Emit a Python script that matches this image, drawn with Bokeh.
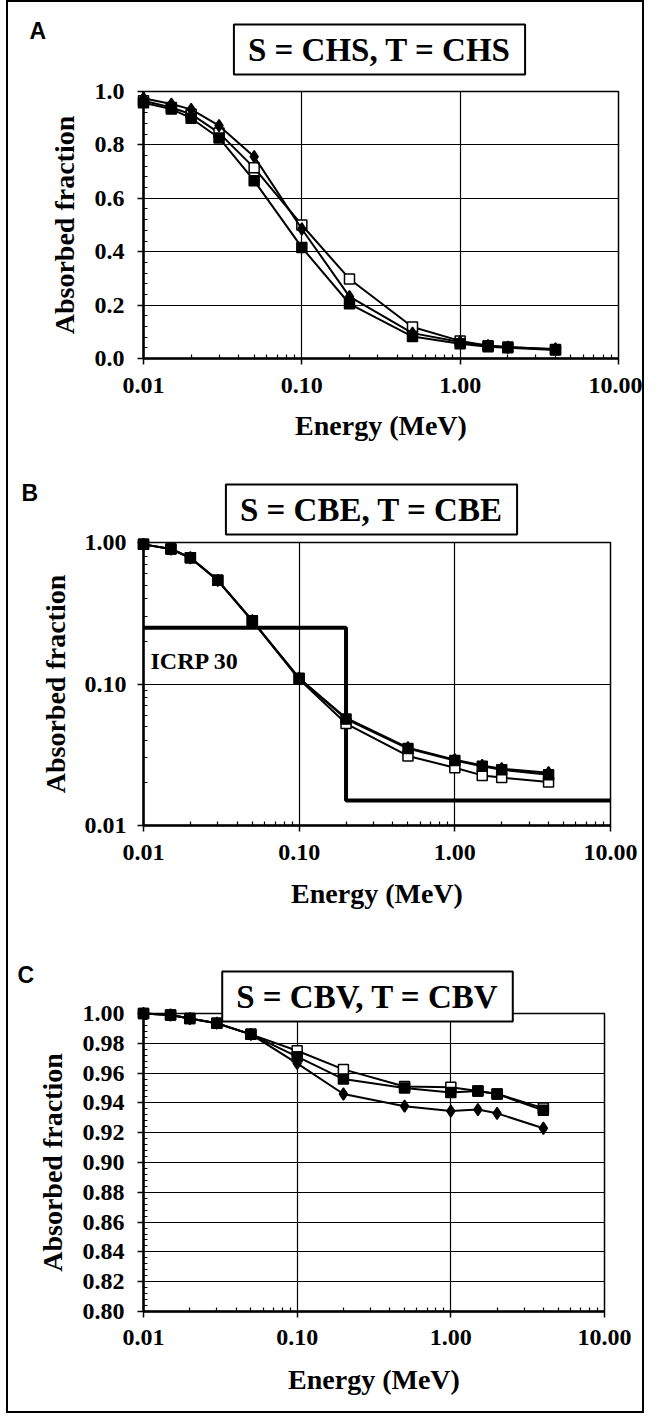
import math
from bokeh.plotting import figure
from bokeh.models import FixedTicker, Label
from bokeh.core.properties import value
from bokeh.layouts import column
from bokeh.embed import file_html
from bokeh.resources import INLINE

# ---------------- data ----------------
energy = [0.01, 0.015, 0.02, 0.03, 0.05, 0.1, 0.2, 0.5, 1.0, 1.5, 2.0, 4.0]

# Panel A : S = CHS, T = CHS
a_diamond = [0.975, 0.953, 0.933, 0.872, 0.756, 0.485, 0.232, 0.095, 0.062, 0.048, 0.042, 0.036]
a_open    = [0.965, 0.940, 0.915, 0.845, 0.714, 0.500, 0.298, 0.118, 0.066, 0.048, 0.043, 0.034]
a_filled  = [0.958, 0.934, 0.900, 0.826, 0.666, 0.416, 0.205, 0.082, 0.055, 0.044, 0.040, 0.032]

# Panel B : S = CBE, T = CBE
b_diamond = [0.97, 0.90, 0.78, 0.54, 0.28, 0.110, 0.0575, 0.0355, 0.0292, 0.0266, 0.0252, 0.0236]
b_filled  = [0.97, 0.90, 0.78, 0.54, 0.28, 0.110, 0.0565, 0.0350, 0.0288, 0.0262, 0.0248, 0.0228]
b_open    = [0.97, 0.90, 0.78, 0.54, 0.28, 0.108, 0.0525, 0.0310, 0.0256, 0.0226, 0.0218, 0.0203]
icrp_x = [0.01, 0.2, 0.2, 10.0]
icrp_y = [0.25, 0.25, 0.015, 0.015]

# Panel C : S = CBV, T = CBV
c_open    = [1.000, 0.999, 0.9966, 0.9935, 0.986, 0.975, 0.9625, 0.951, 0.9505, 0.948, 0.946, 0.9365]
c_filled  = [1.000, 0.999, 0.9966, 0.9935, 0.986, 0.971, 0.956, 0.950, 0.947, 0.948, 0.946, 0.935]
c_diamond = [1.000, 0.999, 0.9966, 0.9935, 0.986, 0.9665, 0.946, 0.9378, 0.9345, 0.9355, 0.933, 0.923]

# ---------------- ticks ----------------
x_ticks = [0.01, 0.1, 1.0, 10.0]
x_tick_labels = ["0.01", "0.10", "1.00", "10.00"]
a_y_ticks = [0.0, 0.2, 0.4, 0.6, 0.8, 1.0]
a_y_labels = ["0.0", "0.2", "0.4", "0.6", "0.8", "1.0"]
b_y_ticks = [0.01, 0.1, 1.0]
b_y_labels = ["0.01", "0.10", "1.00"]
c_y_ticks = [0.80, 0.82, 0.84, 0.86, 0.88, 0.90, 0.92, 0.94, 0.96, 0.98, 1.00]
c_y_labels = ["0.80", "0.82", "0.84", "0.86", "0.88", "0.90", "0.92", "0.94", "0.96", "0.98", "1.00"]

titles = ["S = CHS, T = CHS", "S = CBE, T = CBE", "S = CBV, T = CBV"]
letters = ["A", "B", "C"]
icrp_label = "ICRP 30"

x_minor = [k * 10.0 ** d for d in (-2, -1, 0) for k in range(2, 10)]
a_y_minor = [round(0.04 * i, 4) for i in range(1, 25)]
b_y_minor = [k * 10.0 ** d for d in (-2, -1) for k in range(2, 10)]
c_y_minor = [round(0.80 + 0.004 * i, 4) for i in range(1, 50)]

SERIF = "Liberation Serif"
SANS = "Liberation Sans"


def make_fig(left, fw, right, top, fh, bottom, y_type, y_range, yt, yl, ymin,
             xl_stand, xt_stand, yl_stand, yt_stand):
    p = figure(x_axis_type="log", y_axis_type=y_type, x_range=(0.01, 10.0), y_range=y_range,
               frame_width=fw, frame_height=fh,
               min_border_left=left, min_border_right=right,
               min_border_top=top, min_border_bottom=bottom,
               output_backend="svg", toolbar_location=None,
               background_fill_color="white", border_fill_color="white",
               outline_line_color="black", outline_line_width=1.5)
    p.xaxis.ticker = FixedTicker(ticks=x_ticks, minor_ticks=x_minor)
    p.xaxis.major_label_overrides = dict(zip(x_ticks, x_tick_labels))
    p.yaxis.ticker = FixedTicker(ticks=yt, minor_ticks=ymin)
    p.yaxis.major_label_overrides = dict(zip(yt, yl))
    p.xaxis.axis_label = "Energy (MeV)"
    p.yaxis.axis_label = "Absorbed fraction"
    for ax in (p.xaxis[0], p.yaxis[0]):
        ax.axis_line_color = "black"
        ax.axis_line_width = 2.5
        ax.major_tick_in = 0
        ax.major_tick_out = 6
        ax.major_tick_line_color = "black"
        ax.major_tick_line_width = 1.5
        ax.minor_tick_in = 4
        ax.minor_tick_out = 0
        ax.minor_tick_line_color = "black"
        ax.minor_tick_line_width = 1.2
        ax.major_label_text_font = SERIF
        ax.major_label_text_font_style = "bold"
        ax.major_label_text_font_size = "24px"
        ax.major_label_text_color = "black"
        ax.axis_label_text_font = SERIF
        ax.axis_label_text_font_style = "bold"
        ax.axis_label_text_font_size = "28px"
        ax.axis_label_text_color = "black"
    p.xaxis.major_label_standoff = xt_stand
    p.xaxis.axis_label_standoff = xl_stand
    p.yaxis.major_label_standoff = yt_stand
    p.yaxis.axis_label_standoff = yl_stand
    for g in (p.xgrid[0], p.ygrid[0]):
        g.grid_line_color = "black"
        g.grid_line_width = 1.2
        g.minor_grid_line_color = None
    return p


def add_series(p, ys, marker, fill):
    p.line(energy, ys, line_color="black", line_width=2, level="overlay")
    p.scatter(energy, ys, marker=marker, size=10 if marker != "diamond" else 12,
              fill_color=fill, line_color="black", line_width=1.5, level="overlay")


# conversions from page pixel positions (used only to place the text boxes)
def logx(px, l, r):
    return 10 ** (-2 + 3 * (px - l) / (r - l))


def liny(py, t, b, y0, y1):
    return y1 + (t - py) / (b - t) * (y1 - y0)


def logy(py, t, b, d0, d1):
    return 10 ** (d1 + (t - py) / (b - t) * (d1 - d0))


def add_texts(p, title, letter, fx, fy_title, fy_letter, lx):
    p.text(x=[fx], y=[fy_title], text=[title], text_align="center", text_baseline="middle",
           text_font=value(SERIF), text_font_style="bold", text_font_size=value("33px"),
           text_color="black", background_fill_color="white",
           border_line_color="black", border_line_width=2,
           padding=dict(top=7, right=14, bottom=7, left=14), level="overlay")
    p.text(x=[lx], y=[fy_letter], text=[letter], text_align="left", text_baseline="alphabetic",
           text_font=value(SANS), text_font_style="bold", text_font_size=value("23px"),
           text_color="black", level="overlay")


# -------- panel A --------
AL, AR, AT, AB = 139, 614, 99, 366   # page px of frame
pA = make_fig(AL - 16, AR - AL, 650 - AR, AT - 10, AB - AT, 470 - AB, "linear", (0.0, 1.0),
              a_y_ticks, a_y_labels, a_y_minor, 14, 13, 12, 13)
add_series(pA, a_open, "square", "white")
add_series(pA, a_filled, "square", "black")
add_series(pA, a_diamond, "diamond", "black")
add_texts(pA, titles[0], letters[0], logx(375, AL, AR), liny(57, AT, AB, 0, 1),
          liny(38, AT, AB, 0, 1), logx(25, AL, AR))

# -------- panel B --------
BL, BR, BT, BB = 147, 614, 550, 833
pB = make_fig(BL - 16, BR - BL, 650 - BR, BT - 470, BB - BT, 950 - BB, "log", (0.01, 1.0),
              b_y_ticks, b_y_labels, b_y_minor, 15, 13, 11, 11)
pB.line(icrp_x, icrp_y, line_color="black", line_width=4, level="overlay")
add_series(pB, b_open, "square", "white")
add_series(pB, b_diamond, "diamond", "black")
add_series(pB, b_filled, "square", "black")
add_texts(pB, titles[1], letters[1], logx(375, BL, BR), logy(517, BT, BB, -2, 0),
          logy(500, BT, BB, -2, 0), logx(25, BL, BR))
pB.add_layout(Label(x=logx(154, BL, BR), y=logy(668, BT, BB, -2, 0), text=icrp_label,
                    text_align="left", text_baseline="alphabetic", text_font=SERIF,
                    text_font_style="bold", text_font_size="24px", text_color="black"))

# -------- panel C --------
CL, CR, CT, CB = 151, 612, 1021, 1319
pC = make_fig(CL - 16, CR - CL, 650 - CR, CT - 950, CB - CT, 1419 - CB, "linear", (0.80, 1.00),
              c_y_ticks, c_y_labels, c_y_minor, 16, 12, 12, 13)
add_series(pC, c_open, "square", "white")
add_series(pC, c_diamond, "diamond", "black")
add_series(pC, c_filled, "square", "black")
add_texts(pC, titles[2], letters[2], logx(375, CL, CR), liny(1004, CT, CB, 0.8, 1.0),
          liny(982, CT, CB, 0.8, 1.0), logx(25, CL, CR))

layout = column(pA, pB, pC, spacing=0,
                styles={"border": "2px solid black", "margin-left": "6px"})

open("out.html", "w").write(file_html(layout, INLINE))
